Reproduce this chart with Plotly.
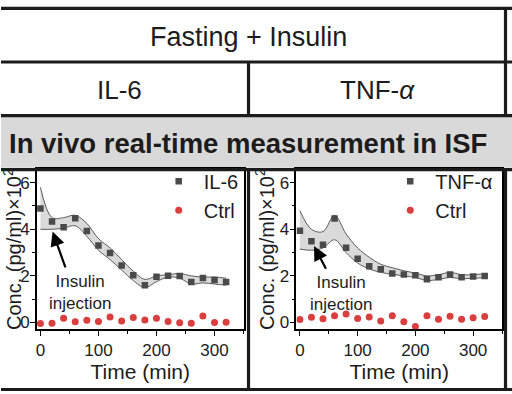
import plotly.graph_objects as go

W, H = 512, 394
FONT = "Liberation Sans, Arial, sans-serif"

# ---------------- data ----------------
time_min = [0, 20, 40, 60, 80, 100, 120, 140, 160, 180, 200, 220, 240, 260, 280, 300, 320]

il6 = [4.89, 4.33, 4.09, 4.47, 3.93, 3.30, 2.98, 2.45, 2.03, 1.60, 1.96, 2.01, 1.99, 1.74, 1.91, 1.82, 1.74]
il6_upper = [5.8, 4.5, 4.5, 4.6, 4.25, 3.6, 3.2, 2.7, 2.2, 1.85, 2.0, 2.05, 2.1, 2.0, 1.95, 1.95, 1.9]
il6_lower = [4.0, 4.0, 4.05, 4.15, 3.7, 3.1, 2.7, 2.25, 1.8, 1.5, 1.75, 1.95, 1.9, 1.65, 1.7, 1.65, 1.6]
il6_ctrl = [-0.04, -0.03, 0.18, 0.03, 0.10, 0.04, 0.24, 0.06, 0.21, 0.11, 0.18, 0.04, -0.01, -0.03, 0.28, 0.0, 0.01]

tnf = [3.94, 3.49, 3.34, 4.46, 3.21, 2.74, 2.41, 2.29, 2.10, 2.06, 2.03, 1.86, 1.94, 2.06, 1.94, 1.97, 2.00]
tnf_upper = [4.8, 4.0, 3.9, 4.6, 3.8, 3.2, 2.8, 2.5, 2.35, 2.22, 2.12, 2.0, 2.05, 2.15, 2.05, 2.05, 2.1]
tnf_lower = [3.15, 3.1, 3.2, 3.55, 3.0, 2.55, 2.3, 2.15, 2.07, 2.0, 1.93, 1.8, 1.85, 1.93, 1.88, 1.9, 1.92]
tnf_ctrl = [0.13, 0.23, 0.16, 0.29, 0.36, 0.17, 0.24, 0.06, 0.29, 0.03, -0.17, 0.29, 0.14, 0.27, 0.14, 0.20, 0.26]

header_top = "Fasting + Insulin"
header_cols = ["IL-6", "TNF-<i>α</i>"]
band_title = "<b>In vivo real-time measurement in ISF</b>"
series_names = [("IL-6", "Ctrl"), ("TNF-α", "Ctrl")]
x_title = "Time (min)"
y_title = "Conc. (pg/ml)×10<sup>2</sup>"
arrow_text = "Insulin<br>injection"

# ---------------- styling ----------------
SQ_COLOR = "#4a4a4a"
RED = "#d93f3f"
BAND_FILL = "#dadada"
BAND_LINE = "#5a5a5a"
INK = "#1c1c1c"


def px_x(x):
    return x / W


def px_y(y):
    return 1 - y / H


fig = go.Figure()

panels = [
    dict(xa="x", ya="y", leg="legend", data=il6, up=il6_upper, lo=il6_lower, ctrl=il6_ctrl, names=series_names[0]),
    dict(xa="x2", ya="y2", leg="legend2", data=tnf, up=tnf_upper, lo=tnf_lower, ctrl=tnf_ctrl, names=series_names[1]),
]

for p in panels:
    fig.add_trace(go.Scatter(x=time_min, y=p["lo"], mode="lines", line=dict(color=BAND_LINE, width=1, shape="spline", smoothing=1.0),
                             xaxis=p["xa"], yaxis=p["ya"], showlegend=False, hoverinfo="skip", legend=p["leg"]))
    fig.add_trace(go.Scatter(x=time_min, y=p["up"], mode="lines", fill="tonexty", fillcolor=BAND_FILL,
                             line=dict(color=BAND_LINE, width=1, shape="spline", smoothing=1.0),
                             xaxis=p["xa"], yaxis=p["ya"], showlegend=False, hoverinfo="skip", legend=p["leg"]))
    fig.add_trace(go.Scatter(x=time_min, y=p["data"], mode="markers", name=p["names"][0],
                             marker=dict(symbol="square", size=6.5, color=SQ_COLOR),
                             xaxis=p["xa"], yaxis=p["ya"], legend=p["leg"]))
    fig.add_trace(go.Scatter(x=time_min, y=p["ctrl"], mode="markers", name=p["names"][1],
                             marker=dict(symbol="circle", size=7, color=RED),
                             xaxis=p["xa"], yaxis=p["ya"], legend=p["leg"]))

axis_common = dict(showline=True, linecolor="black", linewidth=1.5, mirror=True, ticks="outside",
                   ticklen=5, tickwidth=1.3, tickcolor="black", showgrid=False, zeroline=False,
                   tickfont=dict(family=FONT, size=17, color=INK))

x_common = dict(axis_common, range=[-6, 350], dtick=100, tick0=0, ticklabelstandoff=-1,
                minor=dict(dtick=50, ticklen=3, tickcolor="black", tickwidth=1.2, ticks="outside"),
                title=dict(text=x_title, font=dict(family=FONT, size=21, color=INK), standoff=0))
y_common = dict(axis_common, range=[-0.3, 6.6], dtick=2, tick0=0, ticklabelstandoff=-3,
                minor=dict(dtick=1, ticklen=3, tickcolor="black", tickwidth=1.2, ticks="outside"),
                title=dict(text=y_title, font=dict(family=FONT, size=20, color=INK), standoff=0))

yd = [px_y(332), px_y(170)]
fig.update_layout(
    xaxis=dict(x_common, domain=[px_x(36), px_x(243)], anchor="y"),
    yaxis=dict(y_common, domain=yd, anchor="x"),
    xaxis2=dict(x_common, domain=[px_x(296), px_x(502)], anchor="y2"),
    yaxis2=dict(y_common, domain=yd, anchor="x2"),
)

leg_common = dict(font=dict(family=FONT, size=20, color=INK), bgcolor="rgba(0,0,0,0)",
                  xanchor="left", yanchor="top", itemwidth=40, tracegroupgap=0, traceorder="normal",
                  xref="paper", yref="paper")
fig.update_layout(
    legend=dict(leg_common, x=px_x(153), y=px_y(163)),
    legend2=dict(leg_common, x=px_x(385), y=px_y(163)),
)

# ---------------- table frame ----------------
shapes = []
shapes.append(dict(type="rect", xref="paper", yref="paper", x0=0, x1=1, y0=px_y(169), y1=px_y(117),
                   fillcolor="#d9d9d9", line=dict(width=0), layer="below"))
LW = 3.2
for yy in [8.5, 62.5, 116.5, 171]:
    shapes.append(dict(type="line", xref="paper", yref="paper", x0=0, x1=1, y0=px_y(yy), y1=px_y(yy),
                       line=dict(color=INK, width=LW)))
shapes.append(dict(type="line", xref="paper", yref="paper", x0=0, x1=1, y0=px_y(392.5), y1=px_y(392.5),
                   line=dict(color=INK, width=LW)))
# vertical dividers
for (x, y0, y1) in [(248, 62.5, 116.5), (248, 171, 394), (505.5, 8.5, 116.5), (505.5, 171, 394)]:
    shapes.append(dict(type="line", xref="paper", yref="paper", x0=px_x(x), x1=px_x(x), y0=px_y(y0), y1=px_y(y1),
                       line=dict(color=INK, width=LW)))
fig.update_layout(shapes=shapes)

# ---------------- texts ----------------
ann = []
ann.append(dict(text=header_top, x=px_x(247.5), y=px_y(37), xref="paper", yref="paper", showarrow=False,
                font=dict(family=FONT, size=27, color=INK), xanchor="center", yanchor="middle"))
ann.append(dict(text=header_cols[0], x=px_x(119), y=px_y(91), xref="paper", yref="paper", showarrow=False,
                font=dict(family=FONT, size=26, color=INK), xanchor="center", yanchor="middle"))
ann.append(dict(text=header_cols[1], x=px_x(377.5), y=px_y(91), xref="paper", yref="paper", showarrow=False,
                font=dict(family=FONT, size=26, color=INK), xanchor="center", yanchor="middle"))
ann.append(dict(text=band_title, x=px_x(247.5), y=px_y(145), xref="paper", yref="paper", showarrow=False,
                font=dict(family=FONT, size=27.5, color=INK), xanchor="center", yanchor="middle"))

# insulin injection arrows + text
for xa, ya, tip, tail, txt in [("x", "y", (21, 3.9), (44, 2.3), (68, 1.3)),
                                ("x2", "y2", (24.5, 3.28), (46.5, 2.24), (72, 1.26))]:
    ann.append(dict(x=tip[0], y=tip[1], ax=tail[0], ay=tail[1], xref=xa, yref=ya, axref=xa, ayref=ya,
                    text="", showarrow=True, arrowhead=2, arrowsize=1.3, arrowwidth=2.2, arrowcolor="black"))
    ann.append(dict(x=txt[0], y=txt[1], xref=xa, yref=ya, text=arrow_text, showarrow=False,
                    font=dict(family=FONT, size=17, color=INK), xanchor="center", yanchor="middle"))
fig.update_layout(annotations=ann)

fig.update_layout(width=W, height=H, margin=dict(l=0, r=0, t=0, b=0),
                  paper_bgcolor="white", plot_bgcolor="white", showlegend=True)

# remove the browser's default 8px body margin so the figure fills the window exactly
fig.write_html("out.html", config={"displayModeBar": False},
               post_script="document.body.style.margin='0';document.body.style.overflow='hidden';")
